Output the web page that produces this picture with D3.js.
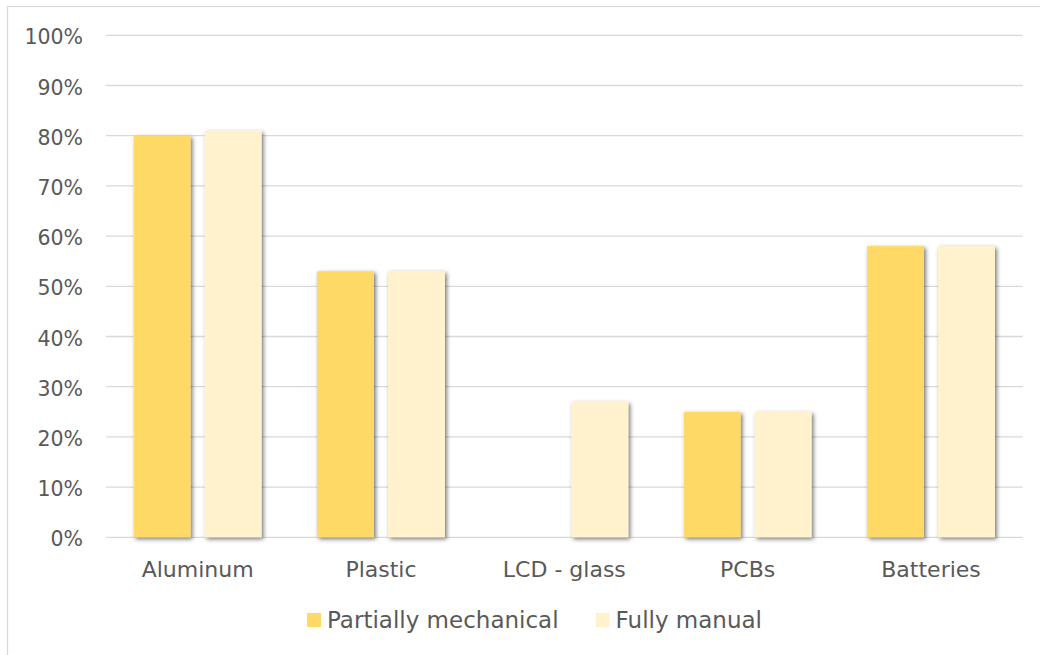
<!DOCTYPE html>
<html>
<head>
<meta charset="utf-8">
<script src="https://cdn.jsdelivr.net/npm/d3@7"></script>
<style>
  html, body { margin: 0; padding: 0; background: #fff; }
  svg { display: block; }
  text { font-family: "DejaVu Sans", sans-serif; fill: #595959; }
</style>
</head>
<body>
<svg id="chart" width="1040" height="655"></svg>
<script>
const categories = ["Aluminum", "Plastic", "LCD - glass", "PCBs", "Batteries"];
const seriesNames = ["Partially mechanical", "Fully manual"];
const partiallyMechanical = [80, 53, null, 25, 58];
const fullyManual = [81, 53, 27, 25, 58];
const yTicks = [0, 10, 20, 30, 40, 50, 60, 70, 80, 90, 100];
const colors = ["#FFD966", "#FFF2CC"];

const seriesValues = [partiallyMechanical, fullyManual];

const svg = d3.select("#chart");
const plot = { left: 106, right: 1022.7, top: 35.3, bottom: 537.3 };

// outer frame (extends past right/bottom edge)
svg.append("rect")
  .attr("x", 7.5).attr("y", 6.5)
  .attr("width", 1200).attr("height", 800)
  .attr("fill", "#fff")
  .attr("stroke", "#d9d9d9").attr("stroke-width", 1.25);

const defs = svg.append("defs");
const f = defs.append("filter").attr("id", "shadow")
  .attr("x", "-30%").attr("y", "-10%").attr("width", "160%").attr("height", "130%");
f.append("feDropShadow")
  .attr("dx", 1.8).attr("dy", 1.8).attr("stdDeviation", 2)
  .attr("flood-color", "#000").attr("flood-opacity", 0.55);

const y = d3.scaleLinear().domain([0, 100]).range([plot.bottom, plot.top]);
const x0 = d3.scaleBand().domain(categories)
  .range([plot.left, plot.right])
  .paddingInner(0.3028).paddingOuter(0.1514);
const x1 = d3.scaleBand().domain(seriesNames)
  .range([0, x0.bandwidth()])
  .paddingInner(0.2);

// gridlines
svg.append("g").selectAll("line").data(yTicks).join("line")
  .attr("x1", plot.left).attr("x2", plot.right)
  .attr("y1", d => y(d)).attr("y2", d => y(d))
  .attr("stroke", "#d9d9d9").attr("stroke-width", 1.3);

// y tick labels
svg.append("g").selectAll("text").data(yTicks).join("text")
  .attr("x", 83).attr("y", d => y(d) + 9)
  .attr("text-anchor", "end")
  .style("font-size", "20.5px")
  .text(d => d + "%");

// bars
const rows = [];
categories.forEach((c, i) => {
  seriesNames.forEach((s, j) => {
    const v = seriesValues[j][i];
    if (v !== null && v !== undefined) rows.push({ c, s, v, j });
  });
});
svg.append("g").attr("filter", "url(#shadow)")
  .selectAll("rect").data(rows).join("rect")
  .attr("x", d => x0(d.c) + x1(d.s))
  .attr("y", d => y(d.v))
  .attr("width", x1.bandwidth())
  .attr("height", d => y(0) - y(d.v))
  .attr("fill", d => colors[d.j]);

// category labels
svg.append("g").selectAll("text").data(categories).join("text")
  .attr("x", d => x0(d) + x0.bandwidth() / 2)
  .attr("y", plot.bottom + 39.5)
  .attr("text-anchor", "middle")
  .style("font-size", "22px")
  .text(d => d);

// legend
const lg = svg.append("g");
const items = lg.selectAll("g").data(seriesNames).join("g");
items.append("rect")
  .attr("width", 14).attr("height", 14)
  .attr("y", 613)
  .attr("fill", (d, i) => colors[i]);
items.append("text")
  .attr("x", 20).attr("y", 628)
  .style("font-size", "23px")
  .text(d => d);
let cx = 0;
const gap = 37;
items.each(function () {
  const g = d3.select(this);
  g.attr("transform", `translate(${cx},0)`);
  const tw = g.select("text").node().getComputedTextLength();
  cx += 20 + tw + gap;
});
const total = cx - gap;
lg.attr("transform", `translate(${534.5 - total / 2},0)`);
</script>
</body>
</html>
